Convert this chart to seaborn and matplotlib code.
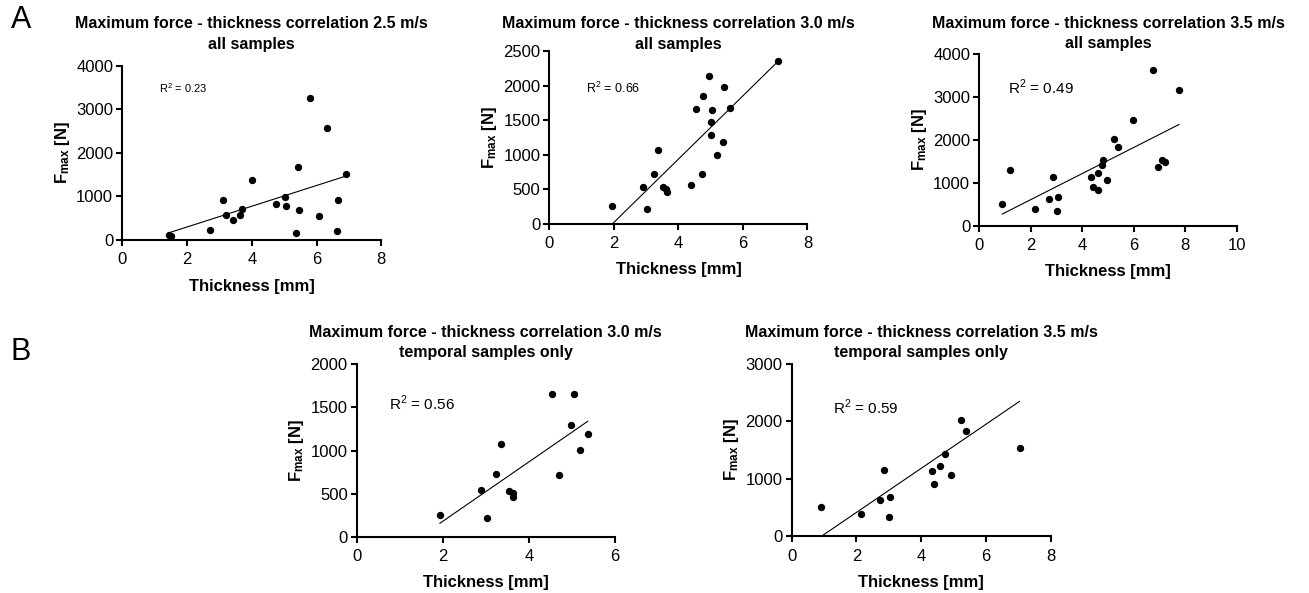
import numpy as np
import pandas as pd
import matplotlib
matplotlib.use("Agg")
import matplotlib.pyplot as plt
import seaborn as sns

# thickness [mm] and max force [N]
a25_thick = [1.45, 1.50, 2.71, 3.10, 3.19, 3.42, 3.64, 3.70, 4.02, 4.74, 5.02,
             5.07, 5.35, 5.43, 5.46, 5.80, 6.09, 6.33, 6.63, 6.66, 6.91]
a25_force = [115, 100, 230, 912, 567, 460, 575, 712, 1371, 835, 988,
             789, 153, 1670, 682, 3255, 552, 2581, 207, 919, 1524]

a30_thick = [1.94, 2.89, 3.03, 3.25, 3.36, 3.53, 3.62, 3.64, 4.39, 4.54, 4.72,
             4.76, 4.95, 5.00, 5.00, 5.05, 5.20, 5.38, 5.42, 5.61, 7.09]
a30_force = [256, 536, 212, 724, 1071, 531, 502, 454, 565, 1655, 714,
             1853, 2143, 1477, 1289, 1650, 994, 1187, 1974, 1675, 2350]

a35_thick = [0.89, 1.18, 2.16, 2.72, 2.86, 3.01, 3.06, 4.33, 4.42, 4.61, 4.62,
             4.75, 4.81, 4.95, 5.22, 5.41, 5.98, 6.75, 6.93, 7.09, 7.23, 7.77]
a35_force = [505, 1289, 381, 621, 1142, 334, 676, 1134, 901, 1227, 831,
             1421, 1530, 1072, 2027, 1825, 2454, 3627, 1375, 1538, 1476, 3161]

b30_thick = [1.93, 2.88, 3.02, 3.24, 3.35, 3.54, 3.62, 3.63, 4.53, 4.71, 4.99,
             5.05, 5.19, 5.37]
b30_force = [255, 541, 213, 727, 1075, 530, 503, 460, 1659, 716, 1296,
             1655, 1002, 1191]

b35_thick = [0.91, 2.15, 2.72, 2.86, 3.01, 3.05, 4.32, 4.40, 4.59, 4.74, 4.92,
             5.22, 5.39, 7.04]
b35_force = [506, 384, 628, 1145, 337, 674, 1134, 901, 1227, 1424, 1070,
             2029, 1826, 1535]

# regression lines as drawn in the figure (end points)
a25_fit_x, a25_fit_y = [1.45, 6.91], [168, 1470]
a30_fit_x, a30_fit_y = [1.96, 7.09], [0, 2350]
a35_fit_x, a35_fit_y = [0.89, 7.77], [270, 2360]
b30_fit_x, b30_fit_y = [1.93, 5.37], [155, 1340]
b35_fit_x, b35_fit_y = [0.93, 7.04], [0, 2350]

title_top = ["Maximum force - thickness correlation 2.5 m/s",
             "Maximum force - thickness correlation 3.0 m/s",
             "Maximum force - thickness correlation 3.5 m/s",
             "Maximum force - thickness correlation 3.0 m/s",
             "Maximum force - thickness correlation 3.5 m/s"]
title_sub = ["all samples", "all samples", "all samples",
             "temporal samples only", "temporal samples only"]
r2_labels = ["0.23", "0.66", "0.49", "0.56", "0.59"]

sns.set_style("ticks")
plt.rcParams["font.family"] = ["Liberation Sans", "DejaVu Sans"]
plt.rcParams["mathtext.fontset"] = "custom"
plt.rcParams["mathtext.rm"] = "Liberation Sans"
plt.rcParams["mathtext.bf"] = "Liberation Sans:bold"
plt.rcParams["text.color"] = "black"
plt.rcParams["axes.labelcolor"] = "black"
plt.rcParams["xtick.color"] = "black"
plt.rcParams["ytick.color"] = "black"

W, H = 1309, 593
fig = plt.figure(figsize=(W / 100, H / 100), dpi=100)

panels = [
    # x, y, fit x, fit y, axes rect, xmax, ymax, ystep, R2 pos, R2 size, title line y (px)
    (a25_thick, a25_force, a25_fit_x, a25_fit_y, [0.0934, 0.5953, 0.1979, 0.2934], 8, 4000, 1000, (1.13, 3487), 8, (23, 45)),
    (a30_thick, a30_force, a30_fit_x, a30_fit_y, [0.4197, 0.6228, 0.1971, 0.2912], 8, 2500, 500, (1.14, 1955), 9, (23, 44)),
    (a35_thick, a35_force, a35_fit_x, a35_fit_y, [0.7481, 0.6194, 0.1966, 0.2895], 10, 4000, 1000, (1.13, 3216), 11, (23, 43.5)),
    (b30_thick, b30_force, b30_fit_x, b30_fit_y, [0.2725, 0.0949, 0.1973, 0.2907], 6, 2000, 500, (0.75, 1552), 11, (332.5, 353)),
    (b35_thick, b35_force, b35_fit_x, b35_fit_y, [0.6048, 0.0961, 0.1979, 0.2900], 8, 3000, 1000, (1.27, 2238), 11, (332.5, 353)),
]

for i, (xs, ys, fx, fy, rect, xmax, ymax, ystep, r2pos, r2size, ty) in enumerate(panels):
    ax = fig.add_axes(rect)
    sns.lineplot(x=fx, y=fy, ax=ax, color="black", lw=0.8)
    sns.scatterplot(x=xs, y=ys, ax=ax, s=28, color="black", linewidth=0,
                    clip_on=False, zorder=3)
    ax.set_xlim(0, xmax)
    ax.set_ylim(0, ymax)
    ax.set_xticks(np.arange(0, xmax + 0.1, 2))
    ax.set_yticks(np.arange(0, ymax + 1, ystep))
    sns.despine(ax=ax)
    for sp in ["left", "bottom"]:
        ax.spines[sp].set_linewidth(1.5)
        ax.spines[sp].set_color("black")
    ax.tick_params(width=1.5, length=4, labelsize=12)
    ax.tick_params(axis="x", pad=5)
    ax.tick_params(axis="y", pad=2.5)
    ax.set_xlabel("Thickness [mm]", fontsize=12, fontweight="bold", labelpad=8)
    ax.set_ylabel(r"$\mathbf{F_{max}}$ [N]", fontsize=12, fontweight="bold", labelpad=3)
    ax.text(r2pos[0], r2pos[1], r"R$^2$ = " + r2_labels[i], fontsize=r2size,
            va="center", ha="left")
    # two-line bold title, centred on the axes
    cx = rect[0] + rect[2] / 2
    fig.text(cx, 1 - ty[0] / H, title_top[i], fontsize=11.5, fontweight="bold",
             ha="center", va="center")
    fig.text(cx, 1 - ty[1] / H, title_sub[i], fontsize=11.5, fontweight="bold",
             ha="center", va="center")

fig.text(0.008, 0.966, "A", fontsize=22, va="center")
fig.text(0.008, 0.406, "B", fontsize=22, va="center")

fig.savefig("out.png", dpi=100)
